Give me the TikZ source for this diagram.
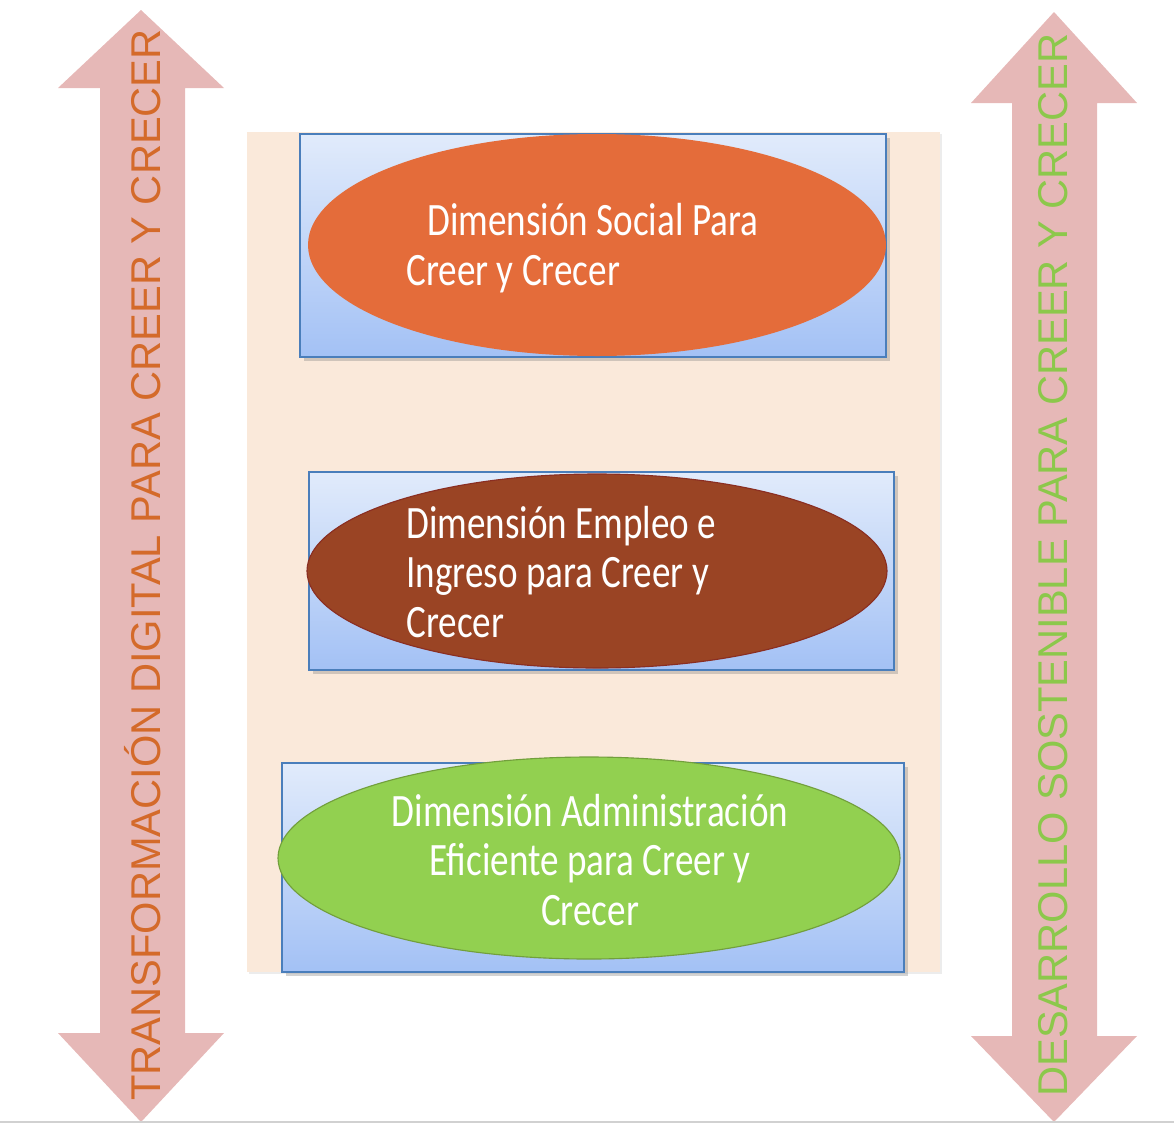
\documentclass[tikz,border=0pt]{standalone}
\usepackage{fontspec}
\setsansfont{Liberation Sans}
\newfontfamily\dimfont[FakeStretch=0.8]{Carlito}
\usetikzlibrary{shadows}
\definecolor{panelbg}{HTML}{FAE9DA}
\definecolor{arrowpink}{HTML}{E6B8B7}
\definecolor{boxedge}{HTML}{4A7EBB}
\definecolor{boxtop}{HTML}{E1EBFB}
\definecolor{boxbot}{HTML}{A3C1F5}
\definecolor{socialorange}{HTML}{E46C3A}
\definecolor{empleobrown}{HTML}{9A4424}
\definecolor{empleoedge}{HTML}{8A2E22}
\definecolor{admingreen}{HTML}{92D050}
\definecolor{adminedge}{HTML}{729F3C}
\definecolor{titleorange}{HTML}{D46A2A}
\definecolor{titlegreen}{HTML}{8CC84B}
\tikzset{
  dimbox/.style={draw=boxedge, line width=1.5pt, top color=boxtop, bottom color=boxbot,
    drop shadow={shadow xshift=0.6ex, shadow yshift=-0.6ex, opacity=0.35}},
  dimtext/.style={text=white, font=\dimfont\fontsize{33}{35.4}\selectfont, inner sep=0pt},
  titletext/.style={rotate=90, font=\sffamily\fontsize{29.6}{30}\selectfont, inner sep=0pt}
}
\begin{document}
\begin{tikzpicture}[x=0.025cm, y=-0.025cm]
\useasboundingbox (0,0) rectangle (1174,1124);
% side arrows
\fill[arrowpink] (141,10) -- (224,88) -- (185,88) -- (185,1033) -- (224,1033) -- (141,1122)
  -- (58,1033) -- (100,1033) -- (100,88) -- (58,88) -- cycle;
\fill[arrowpink] (1054,12) -- (1137,103) -- (1097,103) -- (1097,1036) -- (1137,1036) -- (1054,1122)
  -- (971,1036) -- (1012,1036) -- (1012,103) -- (971,103) -- cycle;
\node[titletext, text=titleorange] (transformacion) at (143,565) {TRANSFORMACIÓN DIGITAL PARA CREER Y CRECER};
\node[titletext, text=titlegreen] (desarrollo) at (1053,565) {DESARROLLO SOSTENIBLE PARA CREER Y CRECER};
% panel
\fill[panelbg, drop shadow={shadow xshift=0.3ex, shadow yshift=-0.3ex, opacity=0.15}] (247,132) rectangle (940,972);
% social
\draw[dimbox] (300,134) rectangle (886,357);
\fill[socialorange] (597,245) ellipse [x radius=289, y radius=111];
\node[dimtext, anchor=west, align=left] (social) at (406,248) {\hspace*{0.45em}Dimensión Social Para\\Creer y Crecer};
% empleo
\draw[dimbox] (309,472) rectangle (894,670);
\filldraw[fill=empleobrown, draw=empleoedge, line width=0.8pt] (597,571) ellipse [x radius=290, y radius=97];
\node[dimtext, anchor=west, align=left] (empleo) at (406,572) {Dimensión Empleo e\\Ingreso para Creer y\\Crecer};
% administracion
\draw[dimbox] (282,763) rectangle (904,972);
\filldraw[fill=admingreen, draw=adminedge, line width=0.8pt] (589,858) ellipse [x radius=311, y radius=101];
\node[dimtext, align=center] (admin) at (590,860) {Dimensión Administración\\Eficiente para Creer y\\Crecer};
% base line
\draw[black!18, line width=1.5pt] (0,1122) -- (1174,1122);
\end{tikzpicture}
\end{document}
